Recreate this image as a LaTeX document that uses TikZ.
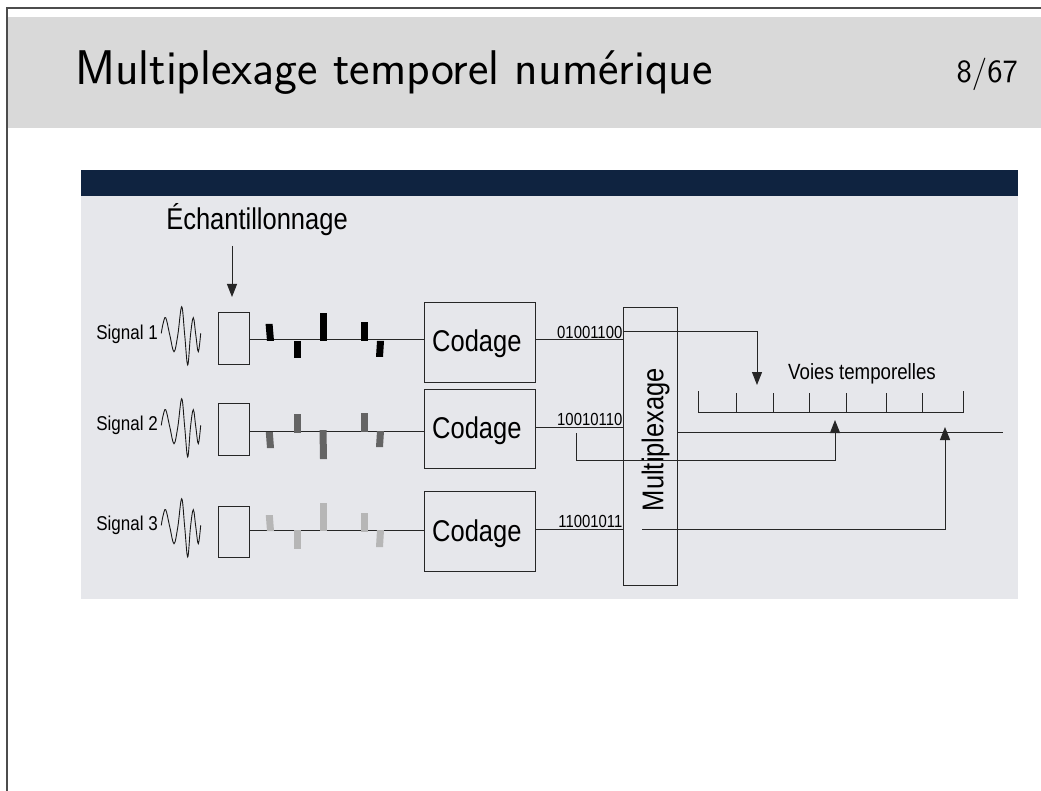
\documentclass[tikz,border=0pt]{standalone}
\usepackage{fontspec}
\usepackage{graphicx}
\newfontfamily\arialf{Liberation Sans}
\usetikzlibrary{arrows.meta,calc}
\definecolor{hdrgray}{RGB}{217,217,217}
\definecolor{navy}{RGB}{15,35,64}
\definecolor{panel}{RGB}{230,231,235}
\definecolor{rowone}{RGB}{0,0,0}
\definecolor{rowtwo}{RGB}{100,100,100}
\definecolor{rowthree}{RGB}{182,182,182}
\newcommand{\cond}[2]{{\arialf\fontsize{#1}{#1}\selectfont\scalebox{0.85}[1]{#2}}}
\newcommand{\smp}[5]{\fill[#1] (#2-#5,#3) -- (#2+7-#5,#3) -- (#2+7,#4) -- (#2,#4) -- cycle;}
\begin{document}
\begin{tikzpicture}[x=1pt,y=-1pt,
  wire/.style={line width=1pt, draw=black!85},
  blk/.style={draw=black!85, line width=1pt, inner sep=0pt},
  arr/.style={wire, -{Triangle[width=10pt,length=13pt]}},
  lbl/.style={inner sep=0pt},
  wavestyle/.style={line width=0.9pt, draw=black!90}]
\useasboundingbox (0,0) rectangle (1041,791);
\fill[white] (0,0) rectangle (1041,791);
% slide frame
\fill[hdrgray] (8,17) rectangle (1041,128);
\draw[line width=1.8pt, black!70] (7,791) -- (7,8) -- (1041,8);
\node[lbl, anchor=base west] (title) at (75,85) {\sffamily\fontsize{48.7}{52}\selectfont Multiplexage temporel numérique};
\node[lbl, anchor=base east] (page) at (1018,83) {\sffamily\fontsize{32.5}{36}\selectfont 8/67};
% panel
\fill[navy] (81,170) rectangle (1018,196);
\fill[panel] (81,196) rectangle (1018,599);
% sampling label
\node[lbl, anchor=base] (ech) at (257,230) {\cond{30}{Échantillonnage}};
\coordinate (echtop) at (232,246);
\coordinate (echtip) at (232,297);
% signal labels
\node[lbl, anchor=base east] (sig1) at (158,340) {\cond{20}{Signal 1}};
\node[lbl, anchor=base east] (sig2) at (158,430) {\cond{20}{Signal 2}};
\node[lbl, anchor=base east] (sig3) at (158,530) {\cond{20}{Signal 3}};
% waves
\foreach \cy in {335,427,527}{
  \begin{scope}[shift={(181,\cy)}]
  \draw[wavestyle] plot[smooth, tension=0.6] coordinates {(-19.7,-1.7) (-18,-11) (-15.3,-17.3) (-11.2,0) (-7,16.7) (-3.2,0) (0.7,-28.3) (3.7,0) (6.7,30) (9.5,0) (12.3,-17.3) (14.8,0) (17.3,16.7) (19.7,-1.7)};
  \end{scope}
}
% sampling boxes
\node[blk, minimum width=31pt, minimum height=52pt] (s1) at (233.5,339) {};
\node[blk, minimum width=31pt, minimum height=52pt] (s2) at (233.5,429) {};
\node[blk, minimum width=31pt, minimum height=51pt] (s3) at (233.5,531.5) {};
\draw[arr] (echtop) -- (echtip);
% coding boxes
\node[blk, minimum width=111pt, minimum height=79pt] (c1) at (479.5,342.5) {};
\node[blk, minimum width=111pt, minimum height=79pt] (c2) at (479.5,428.5) {};
\node[blk, minimum width=111pt, minimum height=80pt] (c3) at (479.5,531) {};
\node[lbl, anchor=base west] (c1t) at (432,352) {\cond{30}{Codage}};
\node[lbl, anchor=base west] (c2t) at (432,438.5) {\cond{30}{Codage}};
\node[lbl, anchor=base west] (c3t) at (432,541) {\cond{30}{Codage}};
% lines sampler -> coder
\draw[wire] (s1.east |- 0,340) -- (c1.west |- 0,340);
\draw[wire] (s2.east |- 0,431) -- (c2.west |- 0,431);
\draw[wire] (s3.east |- 0,530) -- (c3.west |- 0,530);
% samples
\smp{rowone}{267}{324}{341}{1.4}
\smp{rowone}{294}{341}{358}{0}
\smp{rowone}{320}{313}{341}{0}
\smp{rowone}{361}{322}{341}{0}
\smp{rowone}{376}{341}{357}{-1}
\smp{rowtwo}{267}{432}{448}{1.2}
\smp{rowtwo}{294}{414}{433}{0}
\smp{rowtwo}{320}{430}{459}{0.5}
\smp{rowtwo}{361}{413}{432}{0}
\smp{rowtwo}{376}{431}{447}{-1}
\smp{rowthree}{267}{515}{531}{1.2}
\smp{rowthree}{294}{530}{549}{0}
\smp{rowthree}{320}{503}{531}{0}
\smp{rowthree}{361}{513}{532}{0}
\smp{rowthree}{376}{530}{547}{-1}
% multiplexer
\node[blk, minimum width=54pt, minimum height=277pt] (mux) at (650,446.5) {};
\node[lbl, rotate=90, anchor=base] (muxt) at (663.3,439.5) {\cond{30}{Multiplexage}};
% coder -> mux
\draw[wire] (c1.east |- 0,340) -- (mux.west |- 0,340);
\draw[wire] (c2.east |- 0,427) -- (mux.west |- 0,427);
\draw[wire] (c3.east |- 0,529) -- (mux.west |- 0,529);
\node[lbl, anchor=base east] (b1) at (622.5,339) {\cond{17.5}{01001100}};
\node[lbl, anchor=base east] (b2) at (622.5,425.5) {\cond{17.5}{10010110}};
\node[lbl, anchor=base east] (b3) at (622.5,527.5) {\cond{17.5}{11001011}};
% time slots ruler
\node[lbl, anchor=base] (voies) at (862,380) {\cond{22}{Voies temporelles}};
\coordinate (rl) at (698,412);
\coordinate (rr) at (963,412);
\draw[wire] (698,391) -- (rl) -- (rr) -- (963,391);
\foreach \tx in {736,773,809,846,886,922}{\draw[wire] (\tx,393) -- (\tx,412);}
% output line
\coordinate (outend) at (1003,432);
\draw[wire] (mux.east |- outend) -- (outend);
% routing arrows
\coordinate (a1) at (757,385);
\draw[arr] (mux.west |- 0,332) -- (a1 |- 0,332) -- (a1);
\coordinate (p2) at (576,433);
\coordinate (a2) at (835,420);
\draw[arr] (p2) -- (576,460) -- (a2 |- 0,460) -- (a2);
\coordinate (p3) at (642,529);
\coordinate (a3) at (945,427);
\draw[arr] (p3) -- (a3 |- p3) -- (a3);
\end{tikzpicture}
\end{document}
